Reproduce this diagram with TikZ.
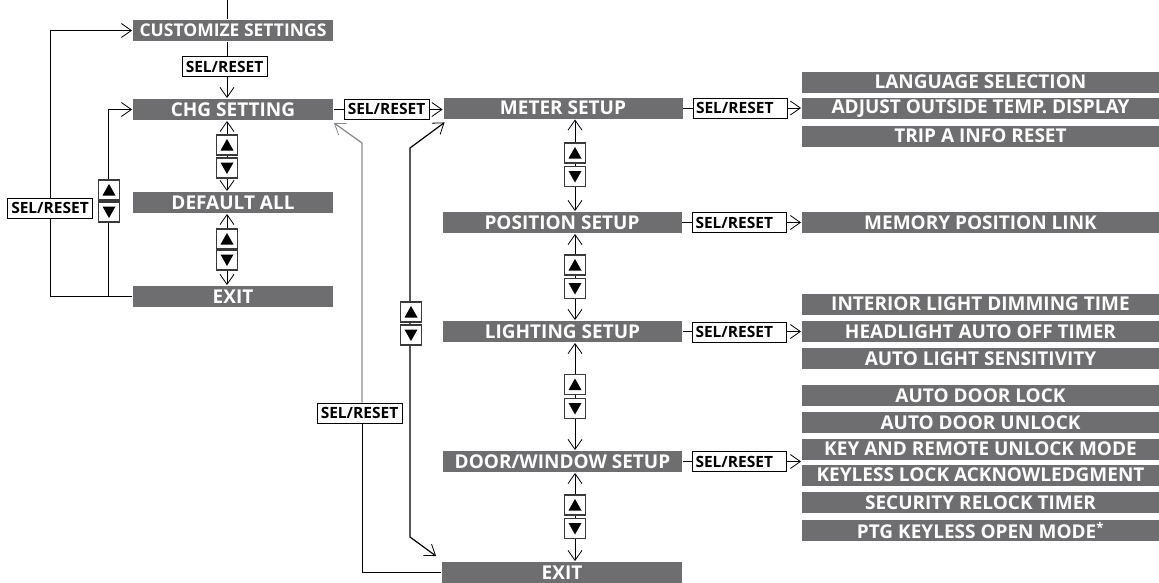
\documentclass[tikz,border=0pt]{standalone}
\usepackage{fontspec}
\setmainfont{Open Sans}
\usepackage{tikz}
\usetikzlibrary{positioning,arrows.meta,backgrounds}
\definecolor{barfill}{HTML}{6E6E70}
\definecolor{linkgray}{HTML}{8C8C8C}
\definecolor{keyedge}{HTML}{3A3A3A}

\begin{document}
\begin{tikzpicture}[x=1pt,y=-1pt,
  >={Straight Barb[length=10pt,width=14pt,line width=0.8pt]},
  line width=1.9pt,
  bar/.style={fill=barfill,text=white,font=\bfseries\fontsize{19}{19}\selectfont,
              minimum width=#1,minimum height=21pt,inner sep=0pt},
  bar/.default=200pt,
  item/.style={bar=357pt},
  sel/.style={draw=black,line width=1pt,fill=white,font=\bfseries\fontsize{15.5}{15.5}\selectfont,
              minimum width=85pt,minimum height=20pt,inner sep=0pt},
  selw/.style={sel,text width=88pt,align=left,inner xsep=3pt},
  key/.style={draw=keyedge,line width=1.3pt,fill=white,minimum width=21pt,minimum height=20pt,inner sep=0pt},
  upkey/.style={key,path picture={\fill[black] ([shift={(-6.5pt,-5.5pt)}]path picture bounding box.center)
                -- ++(13pt,0pt) -- ++(-6.5pt,11.5pt) -- cycle;}},
  dnkey/.style={key,path picture={\fill[black] ([shift={(-6.5pt,5.5pt)}]path picture bounding box.center)
                -- ++(13pt,0pt) -- ++(-6.5pt,-11.5pt) -- cycle;}},
  ]
  \useasboundingbox (0,0) rectangle (1159,582);

  % ---- top level menu ----
  \coordinate (top) at (227,0);
  \coordinate (lo) at (50,0);
  \coordinate (li) at (108,0);
  \node[bar,font=\bfseries\fontsize{17.5}{17.5}\selectfont] (cust) at (233,30.5) {CUSTOMIZE SETTINGS};
  \node[bar] (chg)   at (233,109.5) {CHG SETTING};
  \node[bar] (dflt)  at (233,202.5) {DEFAULT ALL};
  \node[bar] (exitA) at (233,296.5) {EXIT};

  \node[sel] (s1) at (224.5,66.5) {SEL/RESET};
  \node[sel] (s2) at (386.5,109)  {SEL/RESET};
  \node[sel] (s7) at (50,208)     {SEL/RESET};

  \node[upkey] (u1) at (227,145) {};
  \node[dnkey] (d1) at (227,168) {};
  \node[upkey] (u2) at (227,239) {};
  \node[dnkey] (d2) at (227,260) {};
  \node[upkey] (u3) at (109,190) {};
  \node[dnkey] (d3) at (109,212) {};

  % ---- CHG SETTING sub menu ----
  \coordinate (rsp) at (575,0);
  \node[bar=239pt] (meter) at (563,108)   {METER SETUP};
  \node[bar=239pt] (posn)  at (562,222.5) {POSITION SETUP};
  \node[bar=239pt] (light) at (562.5,331.5) {LIGHTING SETUP};
  \node[bar=239pt] (door)  at (562.5,461.5) {DOOR/WINDOW SETUP};
  \node[bar=240pt] (exitB) at (562,572.5) {EXIT};

  \node[selw] (s3) at (740,108)     {SEL/RESET};
  \node[selw] (s4) at (739.5,222.5) {SEL/RESET};
  \node[selw] (s5) at (739.5,332)   {SEL/RESET};
  \node[selw] (s6) at (739.5,461.5) {SEL/RESET};
  \node[sel]  (s8) at (359.5,413)   {SEL/RESET};

  \node[upkey] (u4) at (575,153)   {};
  \node[dnkey] (d4) at (575,176.5) {};
  \node[upkey] (u5) at (575,265)   {};
  \node[dnkey] (d5) at (575,288.5) {};
  \node[upkey] (u6) at (575,384.5) {};
  \node[dnkey] (d6) at (575,408.5) {};
  \node[upkey] (u7) at (575,505)   {};
  \node[dnkey] (d7) at (575,528.5) {};
  \node[upkey] (u8) at (411,312)   {};
  \node[dnkey] (d8) at (411,335)   {};

  % ---- setting items ----
  \node[item] (lang)  at (980.5,82)    {LANGUAGE SELECTION};
  \node[item] (adj)   at (980.5,108.5) {ADJUST OUTSIDE TEMP. DISPLAY};
  \node[item] (trip)  at (980.5,136)   {TRIP A INFO RESET};
  \node[item] (mem)   at (980.5,222.5) {MEMORY POSITION LINK};
  \node[item] (intr)  at (980.5,304)   {INTERIOR LIGHT DIMMING TIME};
  \node[item] (head)  at (980.5,331.5) {HEADLIGHT AUTO OFF TIMER};
  \node[item] (alsen) at (980.5,358.5) {AUTO LIGHT SENSITIVITY};
  \node[item] (adl)   at (980.5,395.5) {AUTO DOOR LOCK};
  \node[item] (adu)   at (980.5,422.5) {AUTO DOOR UNLOCK};
  \node[item] (krum)  at (980.5,449)   {KEY AND REMOTE UNLOCK MODE};
  \node[item] (kla)   at (980.5,475)   {KEYLESS LOCK ACKNOWLEDGMENT};
  \node[item] (srt)   at (980.5,502.5) {SECURITY RELOCK TIMER};
  \node[item] (ptg)   at (980.5,530.5) {PTG KEYLESS OPEN MODE\textsuperscript{*}};

  \coordinate (gk) at (362,143);
  \coordinate (bk1) at (410,148);
  \coordinate (bk2) at (410,537);

  % connectors behind the boxes
  \begin{scope}[on background layer]
    \draw (top) -- (cust.north -| top);
    \draw[->] (cust.south -| top) -- (chg.north -| top);
    \draw[<->] (chg.south -| top) -- (dflt.north -| top);
    \draw[<->] (dflt.south -| top) -- (exitA.north -| top);
    \draw[->] (exitA.west) -- (exitA.west -| lo) -- (cust.west -| lo) -- (cust.west);
    \draw[->] (exitA.west -| li) -- (chg.west -| li) -- (chg.west);
    \draw[->] (chg.east) -- (chg.east -| meter.west);

    \draw[<->] (meter.south -| rsp) -- (posn.north -| rsp);
    \draw[<->] (posn.south -| rsp) -- (light.north -| rsp);
    \draw[<->] (light.south -| rsp) -- (door.north -| rsp);
    \draw[<->] (door.south -| rsp) -- (exitB.north -| rsp);

    \draw[->] (meter.east) -- (meter.east -| adj.west);
    \draw[->] (posn.east) -- (posn.east -| mem.west);
    \draw[->] (light.east) -- (light.east -| head.west);
    \draw[->] (door.east) -- (door.east -| krum.west);

    % return paths from EXIT
    \draw[->,linkgray,line width=1.3pt] (s8.north -| gk) -- (gk) -- ([yshift=-2pt]chg.south east);
    \draw (exitB.west) -- (exitB.west -| gk) -- (s8.south -| gk);
    \draw[<->,line width=1.2pt] ([shift={(-5pt,5pt)}]exitB.north west) -- (bk2) -- (bk1)
          -- ([shift={(2pt,-3pt)}]meter.south west);
  \end{scope}
\end{tikzpicture}
\end{document}
